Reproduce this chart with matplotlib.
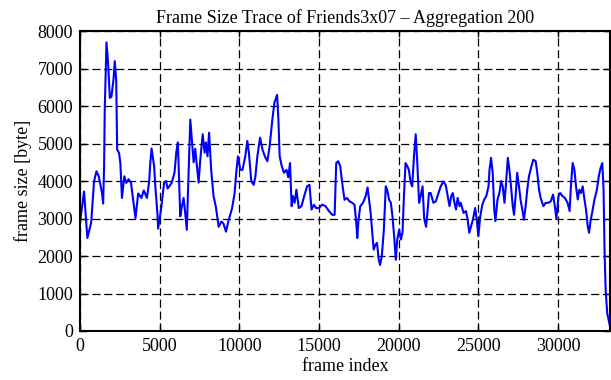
import matplotlib.pyplot as plt

# frame index (in thousands) and frame size (in thousands of bytes)
frame_k = [0.0, 0.25, 0.46, 0.7, 0.88, 1.03, 1.17, 1.38, 1.45, 1.51, 1.55, 1.66, 1.76, 1.87, 1.97,
           2.1, 2.18, 2.27, 2.33, 2.45, 2.53, 2.63, 2.78, 2.9, 3.05, 3.2, 3.48, 3.65, 3.85, 4.0,
           4.2, 4.34, 4.4, 4.49, 4.65, 4.73, 4.86, 4.9, 5.07, 5.28, 5.4, 5.5, 5.76, 5.93, 6.04,
           6.14, 6.29, 6.39, 6.5, 6.6, 6.7, 6.81, 6.92, 7.0, 7.13, 7.23, 7.34, 7.44, 7.55, 7.7,
           7.82, 7.9, 8.0, 8.1, 8.23, 8.38, 8.53, 8.7, 8.87, 9.0, 9.16, 9.33, 9.54, 9.7, 9.8,
           9.91, 10.06, 10.2, 10.37, 10.5, 10.6, 10.75, 10.9, 11.0, 11.13, 11.3, 11.45, 11.6, 11.76, 11.9,
           12.07, 12.2, 12.37, 12.45, 12.53, 12.66, 12.8, 12.96, 13.07, 13.18, 13.28, 13.36, 13.47, 13.58, 13.73,
           13.9, 14.07, 14.25, 14.4, 14.53, 14.68, 14.82, 14.99, 15.2, 15.41, 15.62, 15.83, 15.98, 16.08, 16.2,
           16.33, 16.45, 16.6, 16.75, 16.91, 17.08, 17.23, 17.34, 17.4, 17.48, 17.59, 17.76, 17.93, 18.05, 18.14,
           18.24, 18.33, 18.43, 18.54, 18.64, 18.75, 18.83, 18.94, 19.07, 19.19, 19.28, 19.4, 19.51, 19.61, 19.72,
           19.82, 19.91, 20.03, 20.14, 20.24, 20.33, 20.43, 20.54, 20.64, 20.75, 20.85, 20.96, 21.07, 21.17, 21.28,
           21.38, 21.5, 21.6, 21.72, 21.83, 21.9, 22.01, 22.18, 22.33, 22.5, 22.64, 22.8, 22.95, 23.06, 23.19,
           23.3, 23.4, 23.5, 23.6, 23.7, 23.82, 23.9, 24.07, 24.22, 24.33, 24.43, 24.55, 24.66, 24.8, 24.9,
           25.0, 25.12, 25.25, 25.37, 25.5, 25.64, 25.7, 25.8, 25.9, 26.0, 26.07, 26.2, 26.32, 26.43, 26.53,
           26.64, 26.74, 26.85, 26.95, 27.05, 27.16, 27.24, 27.34, 27.44, 27.55, 27.65, 27.76, 27.86, 27.97, 28.07,
           28.18, 28.33, 28.45, 28.6, 28.7, 28.81, 28.91, 29.08, 29.23, 29.4, 29.55, 29.69, 29.8, 29.9, 30.03,
           30.14, 30.28, 30.43, 30.6, 30.73, 30.81, 30.92, 31.03, 31.13, 31.24, 31.34, 31.45, 31.55, 31.66, 31.76,
           31.87, 31.95, 32.04, 32.14, 32.29, 32.44, 32.56, 32.67, 32.78, 32.86, 32.92, 32.99, 33.09, 33.25]
size_k = [2.9, 3.72, 2.48, 2.9, 3.99, 4.26, 4.13, 3.68, 3.4, 4.39, 5.9, 7.7, 7.16, 6.22, 6.25,
          6.71, 7.2, 6.7, 4.84, 4.75, 4.48, 3.55, 4.13, 3.95, 4.05, 3.95, 3.01, 3.67, 3.55, 3.75,
          3.55, 4.0, 4.43, 4.87, 4.4, 3.83, 3.11, 2.73, 3.2, 3.96, 4.0, 3.8, 3.96, 4.23, 4.76,
          5.03, 3.06, 3.32, 3.55, 3.15, 2.7, 4.2, 5.64, 5.2, 4.5, 4.86, 4.4, 3.96, 4.58, 5.25,
          4.76, 5.03, 4.66, 5.29, 4.3, 3.6, 3.3, 2.78, 2.92, 2.87, 2.65, 2.96, 3.27, 3.67, 4.2,
          4.66, 4.3, 4.3, 4.66, 5.07, 4.75, 3.99, 3.9, 4.1, 4.66, 5.16, 4.84, 4.66, 4.53, 4.93,
          5.64, 6.09, 6.3, 5.64, 4.66, 4.4, 4.22, 4.3, 4.1, 4.48, 3.33, 3.6, 3.42, 3.77, 3.28,
          3.33, 3.6, 3.86, 3.9, 3.24, 3.37, 3.28, 3.28, 3.37, 3.33, 3.2, 3.1, 3.1, 4.48, 4.53,
          4.4, 3.96, 3.5, 3.55, 3.46, 3.42, 3.37, 2.88, 2.48, 2.97, 3.33, 3.42, 3.6, 3.83, 3.5,
          3.15, 2.7, 2.17, 2.3, 2.35, 1.9, 1.76, 1.99, 2.7, 3.86, 3.77, 3.5, 3.42, 3.06, 2.5,
          1.9, 2.44, 2.7, 2.44, 2.62, 3.6, 4.48, 4.4, 4.3, 3.96, 3.86, 4.66, 5.25, 4.48, 3.42,
          3.6, 3.86, 3.0, 2.78, 3.28, 3.68, 3.68, 3.42, 3.46, 3.68, 3.86, 3.99, 3.9, 3.64, 3.33,
          3.6, 3.68, 3.42, 3.24, 3.55, 3.33, 3.42, 3.15, 3.2, 2.97, 2.62, 2.8, 2.97, 3.28, 2.97,
          2.53, 3.06, 3.37, 3.51, 3.6, 3.86, 4.3, 4.62, 4.22, 3.24, 2.93, 3.5, 3.68, 4.0, 3.86,
          3.42, 3.96, 4.62, 4.3, 3.86, 3.33, 3.1, 3.6, 4.22, 3.86, 3.5, 3.24, 2.97, 3.33, 3.77,
          4.13, 4.39, 4.57, 4.53, 4.22, 3.77, 3.55, 3.33, 3.42, 3.42, 3.46, 3.64, 3.33, 3.0, 3.6,
          3.68, 3.6, 3.55, 3.42, 3.2, 3.86, 4.48, 4.3, 3.86, 3.51, 3.77, 3.68, 3.86, 3.51, 3.24,
          2.78, 2.62, 2.93, 3.15, 3.51, 3.77, 4.13, 4.35, 4.48, 3.77, 2.17, 1.1, 0.47, 0.15]

frames = [v * 1000 for v in frame_k]
sizes = [v * 1000 for v in size_k]

plt.rcParams['font.family'] = ['Liberation Serif', 'DejaVu Serif']
plt.rcParams['font.size'] = 13

fig, ax = plt.subplots(figsize=(6.11, 3.80), dpi=100)
fig.subplots_adjust(left=0.131, right=0.998, top=0.918, bottom=0.129)

ax.plot(frames, sizes, color='#0000ff', linewidth=1.5)

ax.set_xlim(0, 33250)
ax.set_ylim(0, 8000)
ax.set_xticks(range(0, 30001, 5000))
ax.set_yticks(range(0, 8001, 1000))
ax.grid(True, color='black', linewidth=0.9, linestyle=(0, (6.5, 3)))
ax.set_axisbelow(True)
ax.tick_params(direction='in', top=True, right=True, length=4, width=1, pad=5)
for s in ax.spines.values():
    s.set_linewidth(1.5)

ax.set_xlabel('frame index', labelpad=2)
ax.set_ylabel('frame size [byte]', labelpad=4)
ax.set_title('Frame Size Trace of Friends3x07 \u2013 Aggregation 200', fontsize=13, pad=6)

plt.savefig('out.png', dpi=100)
